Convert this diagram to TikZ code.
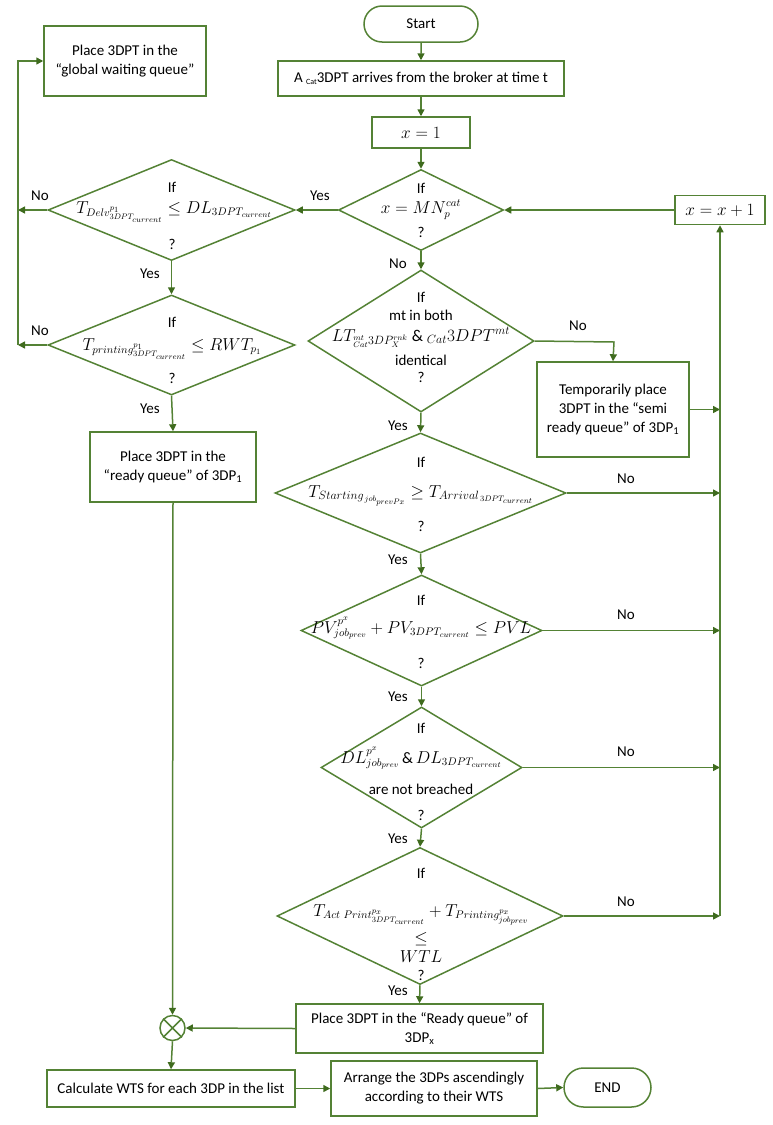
\documentclass[tikz,border=0pt]{standalone}
\usepackage{fontspec}
\setmainfont{Carlito}
\usetikzlibrary{arrows.meta,shapes.geometric,shapes.misc,calc}
\definecolor{gc}{HTML}{548235}
\definecolor{ga}{HTML}{3F6B1E}
\newcommand\fsz{\fontsize{15}{19}\selectfont}
\newcommand\msz{\fontsize{16}{19}\selectfont}
\tikzset{
  ln/.style={draw=gc, line width=1.5pt},
  arr/.style={ln, -{Triangle[length=7pt,width=7pt,color=ga]}},
  box/.style={ln, rectangle, align=center, inner sep=2pt, font=\fsz},
  term/.style={ln, rounded rectangle, inner sep=2pt, font=\fsz},
  dia/.style={ln, diamond, inner sep=0pt},
  txt/.style={font=\fsz, inner sep=0pt, align=center},
  mth/.style={font=\msz, inner sep=0pt, anchor=base},
  lab/.style={font=\fsz, inner sep=0pt},
}
\begin{document}
\begin{tikzpicture}[x=1pt,y=-1pt]
\path[use as bounding box] (0,0) rectangle (773,1125);

% ---------- main column ----------
\node[term, minimum width=118pt, minimum height=36pt] (start) at (421,24) {Start};
\node[box, minimum width=286pt, minimum height=35pt] (arr) at (421,78.5)
  {A \raisebox{-0.35ex}{\footnotesize Cat}3DPT arrives from the broker at time t};
\node[box, minimum width=98pt, minimum height=31pt, font=\msz] (x1) at (421,132.5) {$x = 1$};

\node[dia, minimum width=165pt, minimum height=81pt] (d1) at (421,210) {};
\node[txt] (d1a) at (421,188) {If};
\node[mth] (d1b) at (421,213) {$x = MN_p^{cat}$};
\node[txt] (d1c) at (421,232) {?};

\node[box, minimum width=90pt, minimum height=29pt, font=\msz] (xp) at (720,210) {$x = x + 1$};

\node[dia, minimum width=226pt, minimum height=142pt] (d2) at (421,341) {};
\node[txt] (d2a) at (421,297) {If};
\node[txt] (d2b) at (421,315) {mt in both};
\node[mth, font=\fontsize{16.5}{19}\selectfont] (d2c) at (421,341) {$LT_{{}^{mt}_{Cat}3DP_X^{rnk}}\ \&\ {}_{Cat}3DPT^{mt}$};
\node[txt] (d2d) at (421,360) {identical};
\node[txt] (d2e) at (421,377) {?};

\node[box, minimum width=152pt, minimum height=95pt] (temp) at (613,409.5)
  {Temporarily place\\3DPT in the “semi\\ready queue” of 3DP\textsubscript{1}};

\node[dia, minimum width=291pt, minimum height=120pt] (d3) at (420.5,493) {};
\node[txt] (d3a) at (421,462) {If};
\node[mth, font=\fontsize{16.5}{19}\selectfont] (d3b) at (421,497) {$T_{Starting_{\,job_{prevPx}}} \geq T_{Arrival_{\,3DPT_{current}}}$};
\node[txt] (d3c) at (421,526) {?};

\node[dia, minimum width=241pt, minimum height=111pt] (d4) at (421.5,630.5) {};
\node[txt] (d4a) at (421,600) {If};
\node[mth] (d4b) at (421,633) {$PV^{p^x}_{job_{prev}} + PV_{3DPT_{current}} \leq PVL$};
\node[txt] (d4c) at (421,663) {?};

\node[dia, minimum width=201pt, minimum height=121pt] (d5) at (421.5,767.5) {};
\node[txt] (d5a) at (421,728) {If};
\node[mth] (d5b) at (421,763) {$DL^{p^x}_{job_{prev}}\,\&\,DL_{3DPT_{current}}$};
\node[txt] (d5c) at (421,789) {are not breached};
\node[txt] (d5d) at (421,815) {?};

\node[dia, minimum width=286pt, minimum height=137pt] (d6) at (420,916) {};
\node[txt] (d6a) at (421,873) {If};
\node[mth] (d6b) at (421,916) {$T_{Act\ Print^{p_x}_{3DPT_{current}}} + T_{Printing^{p_x}_{job_{prev}}}$};
\node[txt, font=\msz] (d6c) at (421,939) {$\leq$};
\node[txt, font=\msz] (d6d) at (421,957) {$WTL$};
\node[txt] (d6e) at (421,975) {?};

\node[box, minimum width=247pt, minimum height=49pt] (rbR) at (419.5,1028.5)
  {Place 3DPT in the “Ready queue” of\\3DP\textsubscript{x}};

% ---------- left column ----------
\node[box, minimum width=162pt, minimum height=70pt] (gw) at (125,61)
  {Place 3DPT in the\\“global waiting queue”};

\node[dia, minimum width=247pt, minimum height=101pt] (L1) at (171.5,210) {};
\node[txt] (L1a) at (172,187) {If};
\node[mth] (L1b) at (174,213) {$T_{Delv^{p_1}_{3DPT_{current}}} \leq DL_{3DPT_{current}}$};
\node[txt] (L1c) at (172,244) {?};

\node[dia, minimum width=247pt, minimum height=100pt] (L2) at (171.5,345) {};
\node[txt] (L2a) at (172,322) {If};
\node[mth] (L2b) at (172,350) {$T_{printing^{p_1}_{3DPT_{current}}} \leq RWT_{p_1}$};
\node[txt] (L2c) at (172,378) {?};

\node[box, minimum width=166pt, minimum height=70pt] (rbL) at (173,467)
  {Place 3DPT in the\\“ready queue” of 3DP\textsubscript{1}};

\node[ln, circle, minimum size=25pt, inner sep=0pt] (cx) at (172.5,1028) {};
\draw[ln] (cx.45) -- (cx.225) (cx.135) -- (cx.315);

\node[box, minimum width=248pt, minimum height=37pt] (calc) at (171,1088.5)
  {Calculate WTS for each 3DP in the list};
\node[box, minimum width=206pt, minimum height=55pt] (arrange) at (434,1088.5)
  {Arrange the 3DPs ascendingly\\according to their WTS};
\node[term, minimum width=91pt, minimum height=39pt] (end) at (607.5,1087.5) {END};

% ---------- helper coordinates ----------
\coordinate (vr) at (720,0);
\coordinate (cL1) at (18,210);
\coordinate (cL2) at (18,345);
\coordinate (cTop) at (18,61);
\coordinate (cTemp) at (614,342);
\coordinate (cLoop) at (720,916);

% ---------- connectors ----------
\draw[arr] (start) -- (arr);
\draw[arr] (arr) -- (x1);
\draw[arr] (x1) -- (d1);
\draw[arr] (xp.west) -- (d1.east);
\draw[arr] (d1.west) -- (L1.east);
\node[lab] (yes0) at (320,196) {Yes};
\draw[arr] (L1.west) -- (cL1);
\node[lab] (no0) at (40,196) {No};
\draw[arr] (L1.south) -- (L2.north);
\node[lab] (yes1) at (150,274) {Yes};
\draw[arr] (L2.west) -- (cL2);
\node[lab] (no1) at (40,331) {No};
\draw[arr] (cL2) -- (cTop) -- (gw.west);
\draw[arr] (L2.south) -- (rbL.north);
\node[lab] (yes2) at (150,409) {Yes};
\draw[arr] (rbL.south) -- (cx.north);
\draw[arr] (rbR.west) -- (cx.east);
\draw[arr] (cx.south) -- (calc.north);
\draw[arr] (calc.east) -- (arrange.west);
\draw[arr] (arrange.east) -- (end.west);

\draw[arr] (d1.south) -- (d2.north);
\node[lab] (no2) at (398,264) {No};
\draw[arr] (d2.east) -- (cTemp) -- (temp.north);
\node[lab] (no3) at (578,326) {No};
\draw[arr] (temp.east) -- (temp.east -| vr);
\draw[arr] (d2.south) -- (d3.north);
\node[lab] (yes3) at (398,426) {Yes};
\draw[arr] (d3.east) -- (d3.east -| vr);
\node[lab] (no4) at (626,479) {No};
\draw[arr] (d3.south) -- (d4.north);
\node[lab] (yes4) at (398,560) {Yes};
\draw[arr] (d4.east) -- (d4.east -| vr);
\node[lab] (no5) at (626,615) {No};
\draw[arr] (d4.south) -- (d5.north);
\node[lab] (yes5) at (398,697) {Yes};
\draw[arr] (d5.east) -- (d5.east -| vr);
\node[lab] (no6) at (626,752) {No};
\draw[arr] (d5.south) -- (d6.north);
\node[lab] (yes6) at (398,839) {Yes};
\draw[arr] (d6.east) -- (cLoop);
\node[lab] (no7) at (626,902) {No};
\draw[arr] (cLoop) -- (xp.south);
\draw[arr] (d6.south) -- (rbR.north);
\node[lab] (yes7) at (398,991) {Yes};
\end{tikzpicture}
\end{document}
